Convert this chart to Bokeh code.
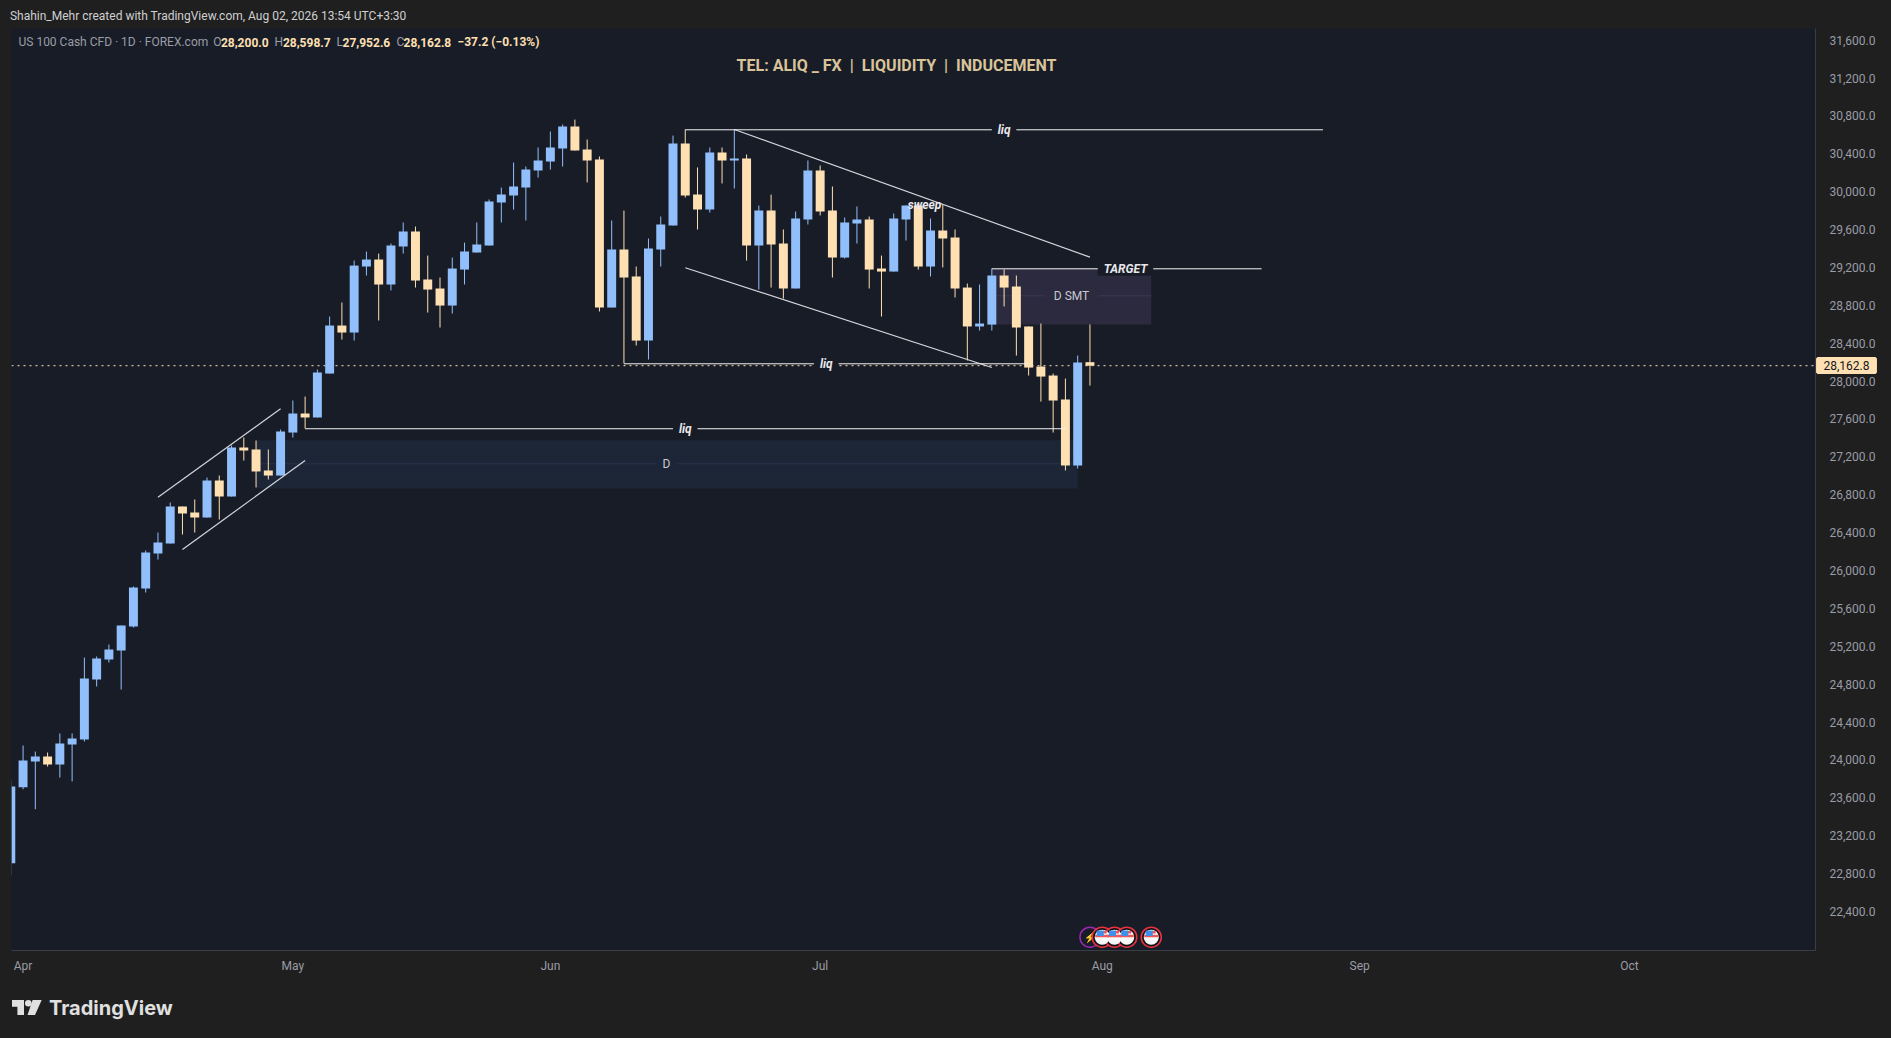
from bokeh.plotting import figure
from bokeh.models import (ColumnDataSource, Range1d, FixedTicker, NumeralTickFormatter, Label)
from bokeh.embed import file_html
from bokeh.resources import INLINE

opens = [22909,23712,23983,24036,23951,24163,24215,24849,25060,25155,25408,25810,26179,26285,26676,26612,26559,26950,26781,27299,27278,27056,27003,27457,27658,27616,28080,28587,28513,29210,29284,29020,29421,29580,29073,28978,28798,29178,29358,29432,29886,29960,30044,30224,30319,30457,30689,30446,30340,28777,29390,29105,28428,29390,29643,30509,29970,29812,30414,30330,30351,29432,29801,29453,28978,29706,30224,29801,29305,29664,29706,29189,29157,29706,29854,29210,29590,29516,28988,28577,28597,29115,28999,28577,28154,28059,27806,27109,28200.0]
highs = [23782,24152,24088,24078,24279,24279,25081,25092,25218,25419,25831,26211,26401,26718,26676,26750,26982,27003,27320,27404,27373,27278,27489,27795,27837,28122,28682,28830,29273,29368,29347,29453,29675,29632,29326,29094,29305,29463,29675,29918,30044,30308,30266,30467,30636,30710,30762,30551,30372,29696,29801,29210,29506,29738,30593,30657,30256,30467,30467,30657,30393,29854,29970,29601,29791,30330,30277,30055,29728,29844,29738,29326,29770,29854,29854,29717,29865,29601,29031,29020,29189,29178,29115,28577,28608,28080,28027,28270,28598.7]
lows = [22782,23690,23479,23930,23814,23772,24194,24775,25028,24743,25398,25768,26116,26285,26380,26401,26559,26538,26781,27161,26877,26961,27003,27404,27500,27616,28080,28439,28428,29115,28640,28957,29347,28988,28724,28566,28713,29020,29358,29432,29675,29812,29696,30150,30234,30266,30435,30098,28735,28777,28186,28376,28228,29210,29643,29939,29601,29780,30087,30034,29273,28967,28988,28872,28978,29654,29749,29094,29294,29453,28978,28682,29157,29485,29178,29105,29200,28883,28218,28534,28534,28788,28270,28059,27784,27457,27056,27077,27952.6]
closes = [23719,23993,24036,23951,24173,24226,24859,25071,25166,25419,25820,26190,26295,26676,26602,26559,26950,26781,27299,27267,27046,27003,27468,27658,27616,28091,28587,28513,29220,29284,29020,29432,29580,29062,28967,28798,29189,29368,29442,29896,29970,30055,30234,30330,30467,30689,30435,30330,28777,29390,29094,28428,29400,29654,30509,29960,29812,30414,30330,30351,29432,29801,29442,28978,29717,30224,29791,29305,29675,29706,29178,29157,29717,29854,29210,29590,29506,28978,28577,28608,29115,28988,28566,28143,28048,27795,27109,28196,28162.8]

price_ticks = list(range(22400, 31601, 400))
month_pos = [1, 23, 44, 66, 89, 110, 132]
month_names = ["Apr", "May", "Jun", "Jul", "Aug", "Sep", "Oct"]

rise_upper = ([12, 22], [26774, 27708])
rise_lower = ([14, 24], [26222, 27162])
fall_upper = ([59, 88], [30657, 29309])
fall_lower = ([55, 80], [29197, 28144])
liq_levels = [(55, 107, 30654, 81), (50, 83, 28183, 66.5), (24, 86, 27497, 55)]
target_line = (80, 102, 29186, 90.9)
smt_box = (80, 93, 29189, 28599, 28901)
d_box = (20, 87, 27376, 26866, 27127)
event_pos = [88, 89, 90, 91, 93]
event_price = 22128
last_price = 28162.8

# screen geometry of the TradingView frame
BG = "#1f1f1f"; PANE = "#181c27"; BORDER = "#2a2b2e"; AXIS = "#3a3d47"; TXT = "#9a9ca6"
BLUE = "#90bffc"; CREAM = "#ffe0b2"
X0, DX = 10.3, 12.263
K, C0 = 10.56, 32019.3
W, H = 1891, 1038
FL, FR, FT, FB = 11, 1815, 28, 950
def xd(px): return (px - X0) / DX
def yd(py): return C0 - K * py

p = figure(width=W, height=H, output_backend="svg", toolbar_location=None,
           x_range=Range1d(xd(FL), xd(FR)), y_range=Range1d(yd(FB), yd(FT)),
           y_axis_location="right", min_border_left=FL, min_border_right=W - FR,
           min_border_top=FT, min_border_bottom=H - FB,
           background_fill_color=PANE, border_fill_color=None, outline_line_color=None)
p.grid.visible = False

for ax in (p.xaxis[0], p.yaxis[0]):
    ax.axis_line_color = AXIS
    ax.major_tick_line_color = None
    ax.minor_tick_line_color = None
    ax.major_label_text_color = TXT
    ax.major_label_text_font = "Roboto"
    ax.major_label_text_font_size = "12px"
p.yaxis[0].ticker = FixedTicker(ticks=price_ticks)
p.yaxis[0].formatter = NumeralTickFormatter(format="0,0.0")
p.yaxis[0].major_label_standoff = 8
p.xaxis[0].ticker = FixedTicker(ticks=month_pos)
p.xaxis[0].major_label_overrides = dict(zip(month_pos, month_names))
p.xaxis[0].major_label_standoff = 2

# zones under the candles
p.quad(left=[d_box[0]], right=[d_box[1]], top=[d_box[2]], bottom=[d_box[3]], fill_color="#1c2636", line_color=None)
p.segment([d_box[0]], [d_box[4]], [d_box[1]], [d_box[4]], line_color="#26344a", line_width=1)
p.quad(left=[smt_box[0]], right=[smt_box[1]], top=[smt_box[2]], bottom=[smt_box[3]], fill_color="#2b2a3f", line_color=None)
p.segment([smt_box[0]], [smt_box[4]], [smt_box[1]], [smt_box[4]], line_color="#3b3954", line_width=1)

# last price line
p.line([xd(FL), xd(FR)], [last_price, last_price], line_color=CREAM, line_width=1, line_dash="2 4")

idx = list(range(len(opens)))
cols = [BLUE if c >= o else CREAM for o, c in zip(opens, closes)]
src = ColumnDataSource(dict(x=idx, o=opens, h=highs, l=lows, c=closes, col=cols))
p.segment("x", "h", "x", "l", source=src, line_color="col", line_width=1)
p.vbar(x="x", top="o", bottom="c", width=0.73, source=src, fill_color="col", line_color=None)

for (xs, ys) in (rise_upper, rise_lower, fall_upper, fall_lower):
    p.line(xs, ys, line_color="#d4d6dc", line_width=1.2)
for (a, b, lvl, _) in liq_levels:
    p.line([a, b], [lvl, lvl], line_color="#f4f4f4", line_width=1)
p.line([target_line[0], target_line[1]], [target_line[2]] * 2, line_color="#f4f4f4", line_width=1)

NB = "\u00a0"
def tag(x, y, text, bg, style="bold italic", size="12px", color="#e8e8ec", font="Roboto"):
    kw = dict(background_fill_color=bg, background_fill_alpha=1) if bg else {}
    p.add_layout(Label(x=x, y=y, text=text, text_align="center", text_baseline="middle", text_color=color,
                       text_font=font, text_font_style=style, text_font_size=size, **kw))

for (_, _, lvl, lx) in liq_levels:
    tag(lx, lvl, NB * 2 + "liq" + NB * 2, PANE)
tag(target_line[3], target_line[2], NB * 2 + "TARGET" + NB * 2, PANE)
tag(86.5, smt_box[4], NB * 3 + "D SMT" + NB * 3, "#2b2a3f", style="normal", color="#c8c8d0")
tag(xd(666), d_box[4], NB * 2 + "D" + NB * 2, "#1c2636", style="normal", color="#c8c8d0")
tag(xd(924), yd(204), "sweep", None)
sep = NB * 2 + "|" + NB * 2
tag(xd(896), yd(64.5), "TEL: ALIQ _ FX" + sep + "LIQUIDITY" + sep + "INDUCEMENT", None, style="bold", size="16px", color="#d9c49a")

# header texts
HF = "Roboto"
def head(px, text, color, style="normal", py=41.5, size="12px", side=None):
    lab = Label(x=xd(px), y=yd(py), text=text, text_align="left", text_baseline="middle", text_color=color,
                text_font=HF, text_font_style=style, text_font_size=size)
    if side:
        p.add_layout(lab, side)
    else:
        p.add_layout(lab)
head(9.4, "Shahin_Mehr created with TradingView.com, Aug 02, 2026 13:54 UTC+3:30", "#cfd0d2", py=15, side="above")
head(18, "US 100 Cash CFD · 1D · FOREX.com", TXT)
for px, t in ((212.7, "O"), (274, "H"), (336, "L"), (396, "C")):
    head(px, t, TXT)
for px, t in ((220.4, "28,200.0"), (282.4, "28,598.7"), (342, "27,952.6"), (403, "28,162.8"), (457, "−37.2 (−0.13%)")):
    head(px, t, CREAM, style="bold")

# last price tag
p.add_layout(Label(x=xd(1846), y=yd(365), text=NB * 2 + "28,162.8" + NB * 2, text_align="center", text_baseline="middle",
                   text_color="#131722", text_font="Roboto", text_font_size="12px",
                   background_fill_color=CREAM, background_fill_alpha=1,
                   border_line_color=CREAM, border_line_width=3), "below")

# economic event markers
ev_y = [event_price] * len(event_pos)
p.scatter(event_pos[:1], ev_y[:1], size=20, marker="circle", fill_color="#181c27", line_color="#9c27b0", line_width=1.5)
p.text(event_pos[:1], ev_y[:1], text=["⚡"], text_align="center", text_baseline="middle", text_font_size="10px", text_color="#b040c8")
fx = event_pos[1:]; fy = ev_y[1:]
p.scatter(fx, fy, size=20, marker="circle", fill_color="#101218", line_color="#e53340", line_width=1.6)
p.scatter(fx, fy, size=15, marker="circle", fill_color="#f8f8f8", line_color=None)
dy = K
p.rect(fx, [event_price + 1.2 * dy] * 4, width=14, height=2.6, width_units="screen", height_units="screen", fill_color="#f0565a", line_color=None)
p.rect(fx, [event_price + 5 * dy] * 4, width=9, height=2.4, width_units="screen", height_units="screen", fill_color="#f0565a", line_color=None)
p.rect([x - 2 / DX for x in fx], [event_price + 4 * dy] * 4, width=7, height=5.5, width_units="screen", height_units="screen", fill_color="#3f8fe8", line_color=None)

# TradingView wordmark
p.add_layout(Label(x=xd(48.5), y=yd(1007.5), text="TradingView", text_align="left", text_baseline="middle",
                   text_color="#e0e0e0", text_font="Inter", text_font_style="bold", text_font_size="20px"), "below")

# page chrome behind the transparent figure: the pane with its border, and the logo mark
chrome = (
    f'<div style="position:absolute;z-index:-1;left:9px;top:26px;width:1873px;height:953px;box-sizing:border-box;'
    f'background:{PANE};border:2px solid {BORDER}"></div>'
    '<svg style="position:absolute;left:0;top:990px" width="60" height="40" viewBox="0 990 60 40">'
    '<polygon fill="#e0e0e0" points="12,1000 24,1000 24,1015 17.4,1015 17.4,1006.7 12,1006.7"/>'
    '<circle fill="#e0e0e0" cx="28.3" cy="1003.3" r="3.3"/>'
    '<polygon fill="#e0e0e0" points="32.6,1000 41.7,1000 35,1015 27.5,1015"/></svg>'
)
html = file_html(p, INLINE)
html = html.replace("<head>", f"<head><style>html,body{{background:{BG};}}</style>", 1)
html = html.replace("</body>", chrome + "</body>", 1)
open("out.html", "w").write(html)
